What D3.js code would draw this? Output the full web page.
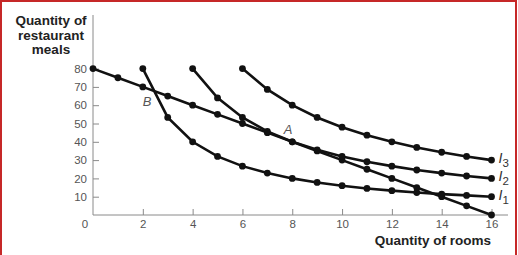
<!DOCTYPE html>
<html lang="en">
<head>
<meta charset="UTF-8">
<title>Indifference curves</title>
<style>
  body { margin: 0; background: #fff; }
  svg { display: block; font-family: "Liberation Sans", Arial, sans-serif; }
  .axis path, .axis line { stroke: #8a8a8a; }
  .axis text { fill: #555; font-size: 11.5px; }
</style>
</head>
<body>
<div id="chart"></div>
<script src="https://d3js.org/d3.v7.min.js"></script>
<script>
  // budget line and indifference curves
  const budgetRooms = [0, 1, 2, 3, 4, 5, 6, 7, 8, 9, 10, 11, 12, 13, 14, 15, 16];
  const budgetMeals = [80, 75, 70, 65, 60, 55, 50, 45, 40, 35, 30, 25, 20, 15, 10, 5, 0];

  const i1Rooms = [2, 3, 4, 5, 6, 7, 8, 9, 10, 11, 12, 13, 14, 15, 16];
  const i1Meals = [80, 53.3, 40, 32, 26.7, 22.9, 20, 17.8, 16, 14.5, 13.3, 12.3, 11.4, 10.7, 10];

  const i2Rooms = [4, 5, 6, 7, 8, 9, 10, 11, 12, 13, 14, 15, 16];
  const i2Meals = [80, 64, 53.3, 45.7, 40, 35.6, 32, 29.1, 26.7, 24.6, 22.9, 21.3, 20];

  const i3Rooms = [6, 7, 8, 9, 10, 11, 12, 13, 14, 15, 16];
  const i3Meals = [80, 68.6, 60, 53.3, 48, 43.6, 40, 36.9, 34.3, 32, 30];

  const xTicks = [2, 4, 6, 8, 10, 12, 14, 16];
  const yTicks = [10, 20, 30, 40, 50, 60, 70, 80];

  const width = 518, height = 255;
  const svg = d3.select("#chart").append("svg")
    .attr("width", width)
    .attr("height", height);

  // red frame (bottom edge falls outside the picture)
  svg.append("rect")
    .attr("x", 1).attr("y", 1)
    .attr("width", 515).attr("height", 270)
    .attr("fill", "none")
    .attr("stroke", "#c62828")
    .attr("stroke-width", 2);

  const x = d3.scaleLinear().domain([0, 16]).range([93, 491.5]);
  const y = d3.scaleLinear().domain([0, 80]).range([215, 68.6]);

  // axes
  const xAxis = svg.append("g")
    .attr("class", "axis")
    .attr("transform", `translate(0,${y(0)})`)
    .call(d3.axisBottom(x).tickValues(xTicks).tickSize(-6).tickPadding(5));
  xAxis.select(".domain").remove();
  xAxis.append("line")
    .attr("x1", x(0)).attr("x2", 508)
    .attr("stroke", "#8a8a8a");
  xAxis.append("text")
    .attr("x", 85).attr("y", 5).attr("dy", "0.71em")
    .attr("text-anchor", "middle")
    .attr("fill", "#555").style("font-size", "11.5px")
    .text("0");

  const yAxis = svg.append("g")
    .attr("class", "axis")
    .attr("transform", `translate(${x(0)},0)`)
    .call(d3.axisLeft(y).tickValues(yTicks).tickSize(-6).tickPadding(6));
  yAxis.select(".domain").remove();
  yAxis.append("line")
    .attr("y1", 15).attr("y2", y(0))
    .attr("stroke", "#8a8a8a");

  // axis titles
  const yTitle = svg.append("text")
    .attr("text-anchor", "middle")
    .attr("font-weight", "bold")
    .attr("font-size", 13.5)
    .attr("fill", "#222");
  ["Quantity of", "restaurant", "meals"].forEach((t, i) => {
    yTitle.append("tspan").attr("x", 51).attr("y", 25 + i * 14.5).text(t);
  });

  svg.append("text")
    .attr("x", 491).attr("y", 245)
    .attr("text-anchor", "end")
    .attr("font-weight", "bold")
    .attr("font-size", 13.5)
    .attr("fill", "#222")
    .text("Quantity of rooms");

  // curves
  const series = [
    { rooms: budgetRooms, meals: budgetMeals },
    { rooms: i1Rooms, meals: i1Meals },
    { rooms: i2Rooms, meals: i2Meals },
    { rooms: i3Rooms, meals: i3Meals }
  ];

  const line = d3.line()
    .x(d => x(d[0]))
    .y(d => y(d[1]));

  series.forEach(s => {
    const pts = s.rooms.map((r, i) => [r, s.meals[i]]);
    svg.append("path")
      .datum(pts)
      .attr("fill", "none")
      .attr("stroke", "#111")
      .attr("stroke-width", 2.6)
      .attr("d", line);
    svg.selectAll(null)
      .data(pts)
      .enter()
      .append("circle")
      .attr("cx", d => x(d[0]))
      .attr("cy", d => y(d[1]))
      .attr("r", 3.4)
      .attr("fill", "#111");
  });

  // curve labels I1, I2, I3
  const curveLabels = [
    { name: "1", meals: i1Meals[i1Meals.length - 1] },
    { name: "2", meals: i2Meals[i2Meals.length - 1] },
    { name: "3", meals: i3Meals[i3Meals.length - 1] }
  ];
  curveLabels.forEach(c => {
    const t = svg.append("text")
      .attr("x", x(16) + 7)
      .attr("y", y(c.meals) + 3)
      .attr("font-size", 14)
      .attr("fill", "#333");
    t.append("tspan").attr("font-style", "italic").text("I");
    t.append("tspan").attr("dy", 4).attr("font-size", 11.5).text(c.name);
  });

  // point labels
  svg.append("text")
    .attr("x", 147).attr("y", 106)
    .attr("text-anchor", "middle")
    .attr("font-style", "italic")
    .attr("font-size", 13)
    .attr("fill", "#555")
    .text("B");
  svg.append("text")
    .attr("x", 288).attr("y", 134)
    .attr("text-anchor", "middle")
    .attr("font-style", "italic")
    .attr("font-size", 13)
    .attr("fill", "#555")
    .text("A");
</script>
</body>
</html>
